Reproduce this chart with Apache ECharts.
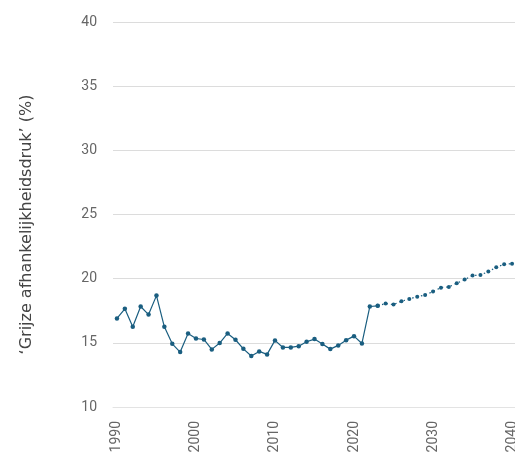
<!DOCTYPE html>
<html>
<head>
<meta charset="utf-8">
<script src="https://cdn.jsdelivr.net/npm/echarts@6/dist/echarts.min.js"></script>
<style>
  html, body { margin: 0; padding: 0; background: #fff; }
  #chart { width: 515px; height: 453px; }
</style>
</head>
<body>
<div id="chart"></div>
<script>
// jaren 1990 t/m 2040
const years = [];
for (let y = 1990; y <= 2040; y++) years.push(String(y));

// waargenomen 1990-2023
const observed = [
  16.9, 17.65, 16.25, 17.83, 17.2, 18.68, 16.25, 14.92, 14.28, 15.73,
  15.34, 15.26, 14.49, 14.98, 15.73, 15.24, 14.53, 13.97, 14.33, 14.1,
  15.19, 14.64, 14.64, 14.74, 15.08, 15.29, 14.9, 14.51, 14.8, 15.21,
  15.52, 14.95, 17.83, 17.88
];

// prognose 2023-2040
const projected = [
  17.88, 18.06, 17.98, 18.24, 18.42, 18.6, 18.73, 19.0, 19.3,
  19.36, 19.64, 19.93, 20.24, 20.29, 20.55, 20.89, 21.12, 21.17
];

const yTicks = { min: 10, max: 40, step: 5 };
const lineColor = '#1a5e80';

const obsData = years.map((y, i) => i < observed.length ? observed[i] : null);
const projStart = observed.length - 1;
const projData = years.map((y, i) => (i >= projStart && i - projStart < projected.length) ? projected[i - projStart] : null);

const chart = echarts.init(document.getElementById('chart'));
chart.setOption({
  animation: false,
  grid: { left: 113, right: -1, top: 22, bottom: 46, outerBoundsMode: 'none', containLabel: false },
  xAxis: {
    type: 'category',
    data: years,
    boundaryGap: true,
    axisLine: { show: true, lineStyle: { color: '#e3e3e3', width: 1 } },
    axisTick: { show: false },
    axisLabel: {
      interval: 9,
      rotate: 90,
      color: '#666',
      fontSize: 14,
      fontFamily: 'Roboto',
      margin: 14
    }
  },
  yAxis: {
    type: 'value',
    min: yTicks.min,
    max: yTicks.max,
    interval: yTicks.step,
    name: '‘Grijze afhankelijkheidsdruk’ (%)',
    nameLocation: 'middle',
    nameGap: 78,
    nameTextStyle: {
      color: '#444',
      fontSize: 16,
      fontFamily: 'DejaVu Sans',
      padding: [0, 20, 0, 0]
    },
    axisLine: { show: false },
    axisTick: { show: false },
    axisLabel: { color: '#666', fontSize: 14, fontFamily: 'Roboto', margin: 16 },
    splitLine: { lineStyle: { color: '#dcdcdc', width: 1 } }
  },
  series: [
    {
      type: 'line',
      data: obsData,
      symbol: 'circle',
      symbolSize: 4.5,
      showSymbol: true,
      lineStyle: { color: lineColor, width: 1.2 },
      itemStyle: { color: lineColor }
    },
    {
      type: 'line',
      data: projData,
      symbol: 'circle',
      symbolSize: 4,
      showSymbol: true,
      lineStyle: { color: lineColor, width: 1.2, type: [1.5, 3] },
      itemStyle: { color: lineColor }
    }
  ]
});
</script>
</body>
</html>
